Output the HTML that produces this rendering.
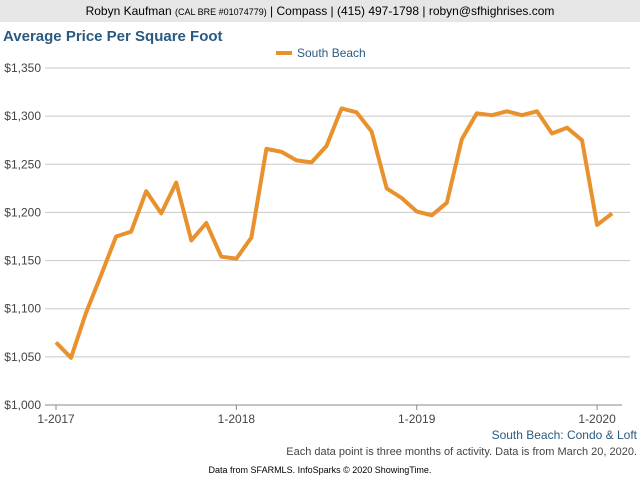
<!DOCTYPE html>
<html><head><meta charset="utf-8"><style>
body{margin:0;background:#fff;font-family:"Liberation Sans",sans-serif;}
</style></head><body>
<svg width="640" height="480" viewBox="0 0 640 480" xmlns="http://www.w3.org/2000/svg" style="display:block">
<rect x="0" y="0" width="640" height="22" fill="#e6e6e6"/>
<text x="320" y="15" text-anchor="middle" font-size="12" fill="#000">Robyn Kaufman <tspan font-size="9">(CAL BRE #01074779)</tspan> | Compass | (415) 497-1798 | robyn@sfhighrises.com</text>
<text x="3" y="41" font-size="15" font-weight="bold" fill="#2a5a80">Average Price Per Square Foot</text>
<line x1="276" y1="53" x2="292" y2="53" stroke="#e8912d" stroke-width="4"/>
<text x="297" y="57" font-size="12" fill="#2a5a80">South Beach</text>
<g id="grid"></g><g id="yt"></g><g id="xt"></g>
<line x1="45" y1="405" x2="622" y2="405" stroke="#888" stroke-width="1"/>
<path id="line" fill="none" stroke="#e8912d" stroke-width="4" stroke-linejoin="round"/>
<text x="637" y="439" text-anchor="end" font-size="12" fill="#2a5a80">South Beach: Condo &amp; Loft</text>
<text x="637" y="455" text-anchor="end" font-size="11" fill="#444">Each data point is three months of activity. Data is from March 20, 2020.</text>
<text x="320" y="473" text-anchor="middle" font-size="9" fill="#000">Data from SFARMLS. InfoSparks © 2020 ShowingTime.</text>
</svg>
<script>
const yTicks=[1000,1050,1100,1150,1200,1250,1300,1350];
const xLabels=["1-2017","1-2018","1-2019","1-2020"];
const xLabelIdx=[0,12,24,36];
const values=[1065,1049,1096,1135,1175,1180,1222,1199,1231,1171,1189,1154,1152,1174,1266,1263,1254,1252,1269,1308,1304,1284,1225,1215,1201,1197,1210,1276,1303,1301,1305,1301,1305,1282,1288,1275,1187,1199];
const NS="http://www.w3.org/2000/svg";
const x=i=>56+i*15.03;
const y=v=>405-(v-1000)*(337/350);
const g=document.getElementById('grid'),yt=document.getElementById('yt'),xt=document.getElementById('xt');
yTicks.forEach(v=>{
 if(v>1000){const l=document.createElementNS(NS,'line');
 l.setAttribute('x1',45);l.setAttribute('x2',630);l.setAttribute('y1',y(v));l.setAttribute('y2',y(v));
 l.setAttribute('stroke','#c8c8c8');
 
 
 g.appendChild(l);}
 const t=document.createElementNS(NS,'text');
 t.setAttribute('x',41);t.setAttribute('y',y(v)+4);t.setAttribute('text-anchor','end');
 t.setAttribute('font-size','12');t.setAttribute('fill','#444');
 t.textContent='$'+v.toLocaleString('en-US');
 
 
 yt.appendChild(t);
});
xLabels.forEach((s,k)=>{
 const xx=x(xLabelIdx[k]);
 const l=document.createElementNS(NS,'line');
 l.setAttribute('x1',xx);l.setAttribute('x2',xx);l.setAttribute('y1',405);l.setAttribute('y2',410);l.setAttribute('stroke','#888');
 
 
 xt.appendChild(l);
 const t=document.createElementNS(NS,'text');
 t.setAttribute('x',xx);t.setAttribute('y',423);t.setAttribute('text-anchor','middle');
 t.setAttribute('font-size','12');t.setAttribute('fill','#444');t.textContent=s;
 
 
 xt.appendChild(t);
});
document.getElementById('line').setAttribute('d',values.map((v,i)=>(i?'L':'M')+x(i).toFixed(1)+','+y(v).toFixed(1)).join(''));
</script>
</body></html>
